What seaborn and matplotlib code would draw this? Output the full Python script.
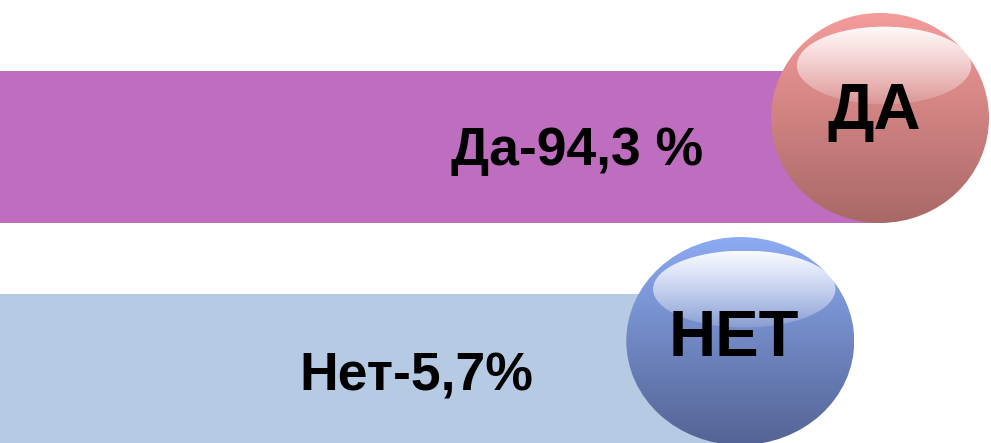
import numpy as np
import pandas as pd
import matplotlib
matplotlib.use('Agg')
import matplotlib.pyplot as plt
import seaborn as sns
from matplotlib.patches import Ellipse

# Данные
categories = ['Да', 'Нет']
values = [94.3, 5.7]                 # проценты ответов
bar_lengths = [88.8, 74.7]           # длина полос на картинке (в % ширины)
bubble_text = ['ДА', 'НЕТ']
label_text = ['Да-94,3 %', 'Нет-5,7%']

bar_colors = ['#BF6DBF', '#B6CAE3']
bubble_top = [(0.96, 0.61, 0.61), (0.55, 0.67, 0.95)]
bubble_bottom = [(0.66, 0.41, 0.40), (0.33, 0.39, 0.58)]

W, H = 991, 443
sns.set_theme(style='white')
plt.rcParams['font.family'] = ['Liberation Sans', 'DejaVu Sans']

fig = plt.figure(figsize=(W / 100, H / 100), dpi=100)
ax = fig.add_axes([0, 0, 1, 1])

df = pd.DataFrame({'cat': categories, 'len': bar_lengths})
sns.barplot(data=df, x='len', y='cat', hue='cat', palette=bar_colors,
            width=0.68, orient='h', legend=False, saturation=1,
            linewidth=0, ax=ax)
ax.set_xlim(0, 100)
ax.set_ylim(1.327, -0.659)
ax.axis('off')

# подписи процентов
ax.text(58.2, 0.02, label_text[0], ha='center', va='center',
        fontsize=38.5, fontweight='bold', color='black')
ax.text(42.0, 1.03, label_text[1], ha='center', va='center',
        fontsize=38.5, fontweight='bold', color='black')

# слой с шарами в пикселях
ax2 = fig.add_axes([0, 0, 1, 1], zorder=3)
ax2.set_xlim(0, W)
ax2.set_ylim(H, 0)
ax2.patch.set_alpha(0)
ax2.axis('off')

fig.canvas.draw()
radii = [(109, 105), (114, 104)]
text_dy = [-6, -2]
for i in range(len(categories)):
    dx, dy = ax.transData.transform((bar_lengths[i], i))
    cx, cy = dx, H - dy - 29
    rx, ry = radii[i]
    # градиент шара
    t = np.linspace(0, 1, 256)[:, None, None]
    top = np.array(bubble_top[i])[None, None, :]
    bot = np.array(bubble_bottom[i])[None, None, :]
    grad = top * (1 - t) + bot * t
    grad = np.repeat(grad, 2, axis=1)
    ell = Ellipse((cx, cy), 2 * rx, 2 * ry, transform=ax2.transData,
                  facecolor='none', edgecolor='none')
    ax2.add_patch(ell)
    im = ax2.imshow(grad, extent=(cx - rx, cx + rx, cy + ry, cy - ry),
                    aspect='auto', interpolation='bilinear', zorder=2)
    im.set_clip_path(ell)
    # блик
    hx, hy = cx + 4, cy - ry * 0.5
    hw, hh = rx * 1.6, ry * 0.74
    a = np.linspace(0.95, 0.15, 256)
    hl = np.ones((256, 2, 4))
    hl[:, :, 3] = a[:, None]
    hell = Ellipse((hx, hy), hw, hh, transform=ax2.transData,
                   facecolor='none', edgecolor='none')
    ax2.add_patch(hell)
    him = ax2.imshow(hl, extent=(hx - hw / 2, hx + hw / 2, hy + hh / 2, hy - hh / 2),
                     aspect='auto', interpolation='bilinear', zorder=3)
    him.set_clip_path(hell)
    ax2.text(cx - 6, cy + text_dy[i], bubble_text[i], ha='center', va='center',
             fontsize=47, fontweight='bold', color='black', zorder=4)

ax2.set_xlim(0, W)
ax2.set_ylim(H, 0)
fig.savefig('out.png', dpi=100)
